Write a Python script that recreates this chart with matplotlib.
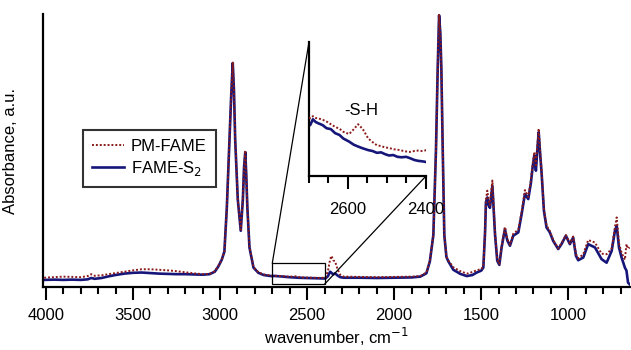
import matplotlib
matplotlib.use("Agg")
import matplotlib.pyplot as plt
from matplotlib.patches import Rectangle, ConnectionPatch
from matplotlib.ticker import MultipleLocator

plt.rcParams['font.family'] = ['Liberation Sans', 'DejaVu Sans']

# wavenumber grid (cm-1) and absorbance of both samples
wn = [4010, 3950, 3900, 3850, 3800, 3760, 3740, 3720, 3680, 3640, 3600, 3550, 3500,
      3450, 3400, 3350, 3300, 3250, 3200, 3150, 3100, 3060, 3030, 3010, 2990, 2975,
      2961, 2946, 2936, 2927, 2920, 2913, 2898, 2881, 2869, 2862, 2855, 2850, 2843,
      2831, 2808, 2780, 2750, 2720,
      2697, 2690, 2683, 2676, 2665, 2655, 2644, 2633, 2622, 2612, 2597, 2585, 2574,
      2562, 2548, 2537, 2526, 2515, 2505, 2495, 2484, 2473, 2462, 2451, 2441, 2430,
      2420, 2410, 2403,
      2395, 2380, 2368, 2360, 2350, 2339, 2325, 2310, 2290, 2200, 2100, 2000, 1900,
      1850, 1815, 1795, 1775, 1760, 1750, 1742, 1735, 1729, 1721, 1712, 1700, 1689,
      1660, 1620, 1583, 1550, 1526, 1500, 1488, 1478, 1473, 1465, 1458, 1450, 1436,
      1428, 1421, 1408, 1396, 1383, 1364, 1350, 1335, 1316, 1287, 1268, 1249, 1230,
      1215, 1205, 1195, 1186, 1178, 1170, 1162, 1153, 1140, 1125, 1106, 1087, 1058,
      1039, 1014, 991, 972, 956, 943, 914, 886, 847, 809, 780, 751, 732, 722, 709,
      694, 675, 666, 657, 648]

fame_s2 = [0.026, 0.027, 0.026, 0.027, 0.026, 0.028, 0.033, 0.030, 0.033, 0.039, 0.044,
           0.049, 0.052, 0.053, 0.051, 0.049, 0.048, 0.047, 0.047, 0.046, 0.045, 0.047,
           0.056, 0.075, 0.100, 0.130, 0.290, 0.540, 0.700, 0.820, 0.720, 0.540, 0.320,
           0.206, 0.320, 0.440, 0.494, 0.420, 0.290, 0.145, 0.071, 0.052, 0.044, 0.041,
           0.0394, 0.0407, 0.0401, 0.0398, 0.0394, 0.0387, 0.0385, 0.0376, 0.0372,
           0.0364, 0.0357, 0.0350, 0.0346, 0.0342, 0.0338, 0.0336, 0.0332, 0.0333,
           0.0329, 0.0326, 0.0327, 0.0323, 0.0322, 0.0323, 0.0320, 0.0316, 0.0314,
           0.0313, 0.0312,
           0.031, 0.040, 0.056, 0.052, 0.046, 0.050, 0.042, 0.036, 0.034, 0.034, 0.033,
           0.034, 0.035, 0.038, 0.050, 0.094, 0.190, 0.500, 0.800, 0.995, 0.930, 0.800,
           0.500, 0.190, 0.110, 0.094, 0.063, 0.048, 0.040, 0.044, 0.053, 0.060, 0.071,
           0.200, 0.310, 0.328, 0.300, 0.290, 0.371, 0.280, 0.194, 0.096, 0.081, 0.145,
           0.212, 0.170, 0.151, 0.188, 0.200, 0.267, 0.341, 0.322, 0.380, 0.438, 0.482,
           0.426, 0.500, 0.567, 0.490, 0.414, 0.279, 0.218, 0.200, 0.169, 0.139, 0.157,
           0.188, 0.157, 0.181, 0.114, 0.098, 0.108, 0.157, 0.145, 0.102, 0.089, 0.132,
           0.206, 0.224, 0.145, 0.108, 0.071, 0.060, 0.016, 0.010]

pm_fame = [0.034, 0.036, 0.038, 0.037, 0.036, 0.040, 0.047, 0.041, 0.043, 0.047, 0.051,
           0.056, 0.061, 0.065, 0.065, 0.063, 0.061, 0.058, 0.054, 0.050, 0.047, 0.048,
           0.058, 0.077, 0.101, 0.130, 0.290, 0.540, 0.700, 0.825, 0.720, 0.540, 0.320,
           0.210, 0.320, 0.440, 0.500, 0.420, 0.290, 0.147, 0.073, 0.054, 0.046, 0.043,
           0.0409, 0.0414, 0.0410, 0.0409, 0.0406, 0.0402, 0.0396, 0.0390, 0.0386,
           0.0379, 0.0374, 0.0385, 0.0396, 0.0385, 0.0364, 0.0356, 0.0349, 0.0347,
           0.0344, 0.0343, 0.0340, 0.0339, 0.0337, 0.0335, 0.0334, 0.0336, 0.0337,
           0.0336, 0.0337,
           0.034, 0.060, 0.100, 0.114, 0.098, 0.093, 0.065, 0.045, 0.038, 0.037, 0.036,
           0.037, 0.038, 0.040, 0.053, 0.096, 0.190, 0.500, 0.800, 1.000, 0.930, 0.800,
           0.500, 0.190, 0.112, 0.097, 0.072, 0.058, 0.049, 0.055, 0.061, 0.066, 0.075,
           0.205, 0.320, 0.353, 0.320, 0.300, 0.390, 0.290, 0.200, 0.100, 0.085, 0.150,
           0.220, 0.175, 0.155, 0.195, 0.210, 0.275, 0.355, 0.330, 0.390, 0.450, 0.494,
           0.440, 0.520, 0.580, 0.500, 0.420, 0.285, 0.225, 0.205, 0.172, 0.142, 0.160,
           0.190, 0.160, 0.185, 0.120, 0.105, 0.120, 0.172, 0.163, 0.122, 0.120, 0.140,
           0.220, 0.255, 0.160, 0.125, 0.100, 0.157, 0.140, 0.145]

RED = '#8b1a1a'
BLUE = '#16167a'

fig = plt.figure(figsize=(6.31, 3.5), dpi=100)
ax = fig.add_axes([0.0686, 0.18, 0.930, 0.78])

ax.plot(wn, fame_s2, color=BLUE, lw=1.9, label='FAME-S$_2$', zorder=2)
ax.plot(wn, pm_fame, color=RED, lw=1.4, ls=(0, (1, 1)), label='PM-FAME', zorder=3)

ax.set_xlim(4015, 645)
ax.set_ylim(0, 1.0)
ax.xaxis.set_major_locator(MultipleLocator(500))
ax.xaxis.set_minor_locator(MultipleLocator(100))
ax.set_yticks([])
for s in ('top', 'right'):
    ax.spines[s].set_visible(False)
for s in ('left', 'bottom'):
    ax.spines[s].set_linewidth(1.6)
ax.tick_params(axis='x', which='major', length=9, width=1.5, labelsize=12, pad=6)
ax.tick_params(axis='x', which='minor', length=5, width=1.5)
ax.set_xlabel('wavenumber, cm$^{-1}$', fontsize=12, labelpad=2)
ax.set_ylabel('Absorbance, a.u.', fontsize=12)
ax.yaxis.set_label_coords(-0.043, 0.5)

handles, labels = ax.get_legend_handles_labels()
leg = ax.legend(handles[::-1], labels[::-1], loc='upper left',
                bbox_to_anchor=(0.068, 0.575), borderaxespad=0, fontsize=12,
                frameon=True, fancybox=False, handlelength=1.9, handletextpad=0.4,
                labelspacing=0.3, borderpad=0.55)
leg.get_frame().set_edgecolor('black')
leg.get_frame().set_linewidth(1.5)

# zoom box around the S-H region
ax.add_patch(Rectangle((2700, 0.010), -300, 0.077, fill=False, ec='black', lw=0.9, zorder=4))

# inset
axin = fig.add_axes([0.4897, 0.497, 0.1854, 0.383])
axin.plot(wn, fame_s2, color=BLUE, lw=1.9, zorder=2)
axin.plot(wn, pm_fame, color=RED, lw=1.4, ls=(0, (1, 1)), zorder=3)
axin.set_xlim(2700, 2400)
axin.set_ylim(0.028, 0.058)
axin.patch.set_alpha(0)
axin.xaxis.set_major_locator(MultipleLocator(200))
axin.xaxis.set_minor_locator(MultipleLocator(50))
axin.set_yticks([])
for s in ('top', 'right'):
    axin.spines[s].set_visible(False)
for s in ('left', 'bottom'):
    axin.spines[s].set_linewidth(1.6)
axin.tick_params(axis='x', which='major', length=9, width=1.5, labelsize=12, pad=10)
axin.tick_params(axis='x', which='minor', length=5, width=1.5)
axin.text(0.45, 0.49, '-S-H', transform=axin.transAxes, fontsize=12,
          ha='center', va='center')

for main_xy, in_xy in (((2700, 0.087), (0, 1)), ((2400, 0.010), (1, 0))):
    con = ConnectionPatch(xyA=main_xy, coordsA=ax.transData, xyB=in_xy,
                          coordsB=axin.transAxes, color='black', lw=0.9)
    fig.add_artist(con)

fig.savefig('out.png', dpi=100)
